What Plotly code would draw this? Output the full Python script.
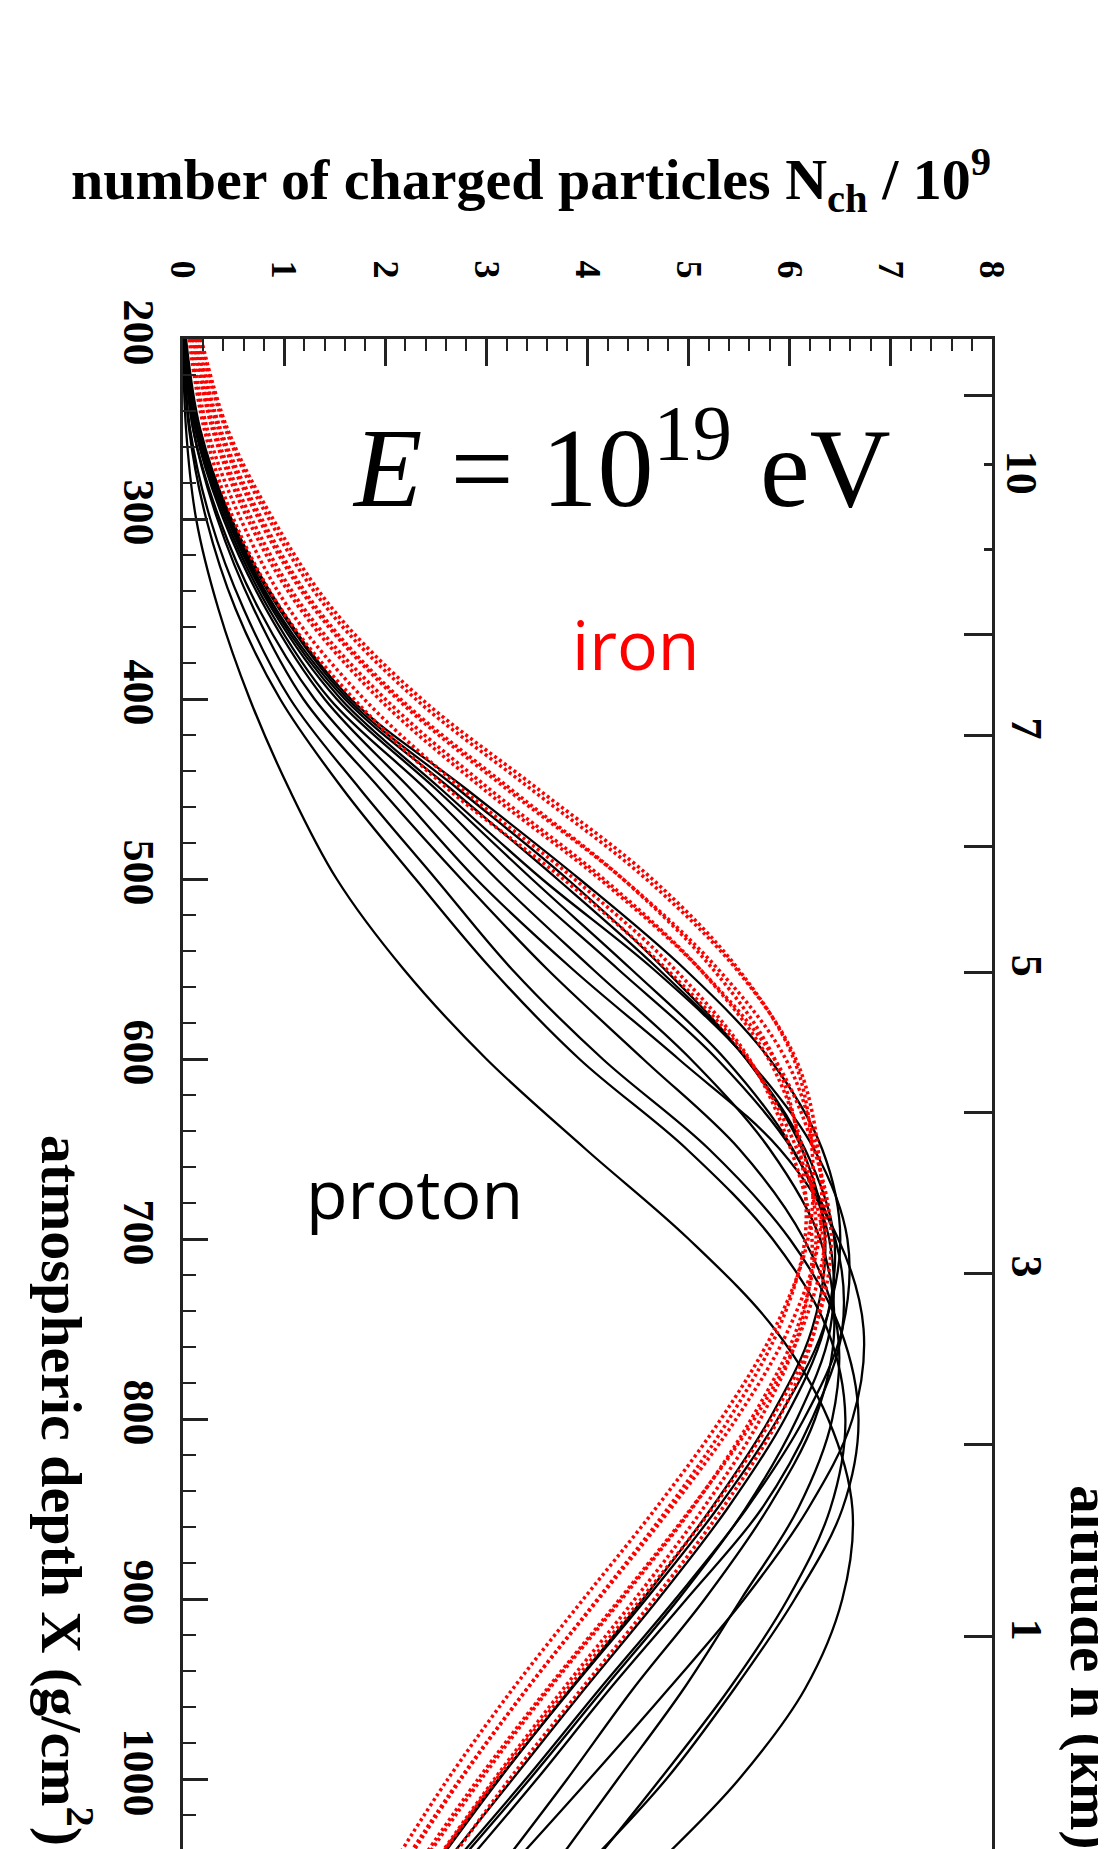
import plotly.graph_objects as go

# ---------------- data ----------------
depth = [200, 250, 300, 350, 400, 450, 500, 550, 600, 650, 700, 750, 800, 850, 900, 950, 1000, 1040]

# iron showers (red dotted), N_ch / 1e9
fe1 = [0.18, 0.44, 0.89, 1.48, 2.36, 3.51, 4.64, 5.49, 6.04, 6.22, 6.18, 5.85, 5.32, 4.67, 3.96, 3.26, 2.62, 2.16]
fe2 = [0.16, 0.42, 0.85, 1.43, 2.30, 3.44, 4.58, 5.47, 6.06, 6.28, 6.29, 5.99, 5.47, 4.82, 4.11, 3.40, 2.74, 2.26]
fe3 = [0.14, 0.37, 0.78, 1.33, 2.15, 3.24, 4.35, 5.24, 5.85, 6.10, 6.15, 5.89, 5.40, 4.79, 4.10, 3.40, 2.75, 2.28]
fe4 = [0.13, 0.35, 0.75, 1.30, 2.12, 3.20, 4.35, 5.29, 5.96, 6.26, 6.35, 6.12, 5.65, 5.02, 4.32, 3.60, 2.92, 2.42]
fe5 = [0.11, 0.31, 0.68, 1.20, 2.00, 3.03, 4.16, 5.11, 5.79, 6.13, 6.26, 6.07, 5.62, 5.03, 4.34, 3.62, 2.95, 2.45]
fe6 = [0.10, 0.29, 0.64, 1.16, 1.94, 2.97, 4.12, 5.11, 5.85, 6.24, 6.41, 6.25, 5.82, 5.23, 4.53, 3.80, 3.10, 2.58]
fe7 = [0.08, 0.24, 0.57, 1.05, 1.79, 2.76, 3.87, 4.86, 5.60, 6.01, 6.22, 6.10, 5.71, 5.14, 4.47, 3.76, 3.08, 2.57]
fe8 = [0.06, 0.21, 0.50, 0.97, 1.69, 2.62, 3.76, 4.78, 5.59, 6.07, 6.33, 6.25, 5.89, 5.33, 4.66, 3.94, 3.23, 2.71]

# proton showers (black solid), N_ch / 1e9
p1 = [0.00, 0.03, 0.13, 0.35, 0.66, 1.05, 1.52, 2.18, 3.00, 3.98, 5.00, 5.85, 6.38, 6.62, 6.52, 6.15, 5.50, 4.82]
p2 = [0.00, 0.06, 0.23, 0.52, 0.96, 1.58, 2.30, 3.05, 3.92, 4.98, 5.83, 6.37, 6.55, 6.40, 5.98, 5.40, 4.72, 4.15]
p3 = [0.00, 0.07, 0.27, 0.60, 1.06, 1.75, 2.50, 3.25, 4.15, 5.20, 6.00, 6.50, 6.68, 6.52, 6.05, 5.45, 4.78, 4.13]
p4 = [0.01, 0.10, 0.34, 0.70, 1.19, 1.95, 2.75, 3.60, 4.55, 5.50, 6.14, 6.47, 6.42, 6.08, 5.52, 4.95, 4.30, 3.78]
p5 = [0.01, 0.10, 0.36, 0.75, 1.30, 2.10, 2.90, 3.85, 4.90, 5.90, 6.48, 6.73, 6.62, 6.18, 5.55, 4.80, 4.02, 3.38]
p6 = [0.01, 0.12, 0.40, 0.82, 1.40, 2.25, 3.10, 4.05, 5.02, 5.80, 6.30, 6.44, 6.25, 5.78, 5.16, 4.45, 3.80, 3.26]
p7 = [0.02, 0.13, 0.42, 0.85, 1.45, 2.40, 3.30, 4.30, 5.28, 6.02, 6.45, 6.52, 6.22, 5.72, 4.98, 4.22, 3.50, 2.90]
p8 = [0.02, 0.14, 0.44, 0.88, 1.52, 2.50, 3.45, 4.43, 5.36, 6.03, 6.39, 6.40, 6.07, 5.56, 4.90, 4.16, 3.43, 2.82]
p9 = [0.02, 0.14, 0.45, 0.90, 1.56, 2.55, 3.55, 4.65, 5.58, 6.24, 6.57, 6.52, 6.14, 5.57, 4.87, 4.12, 3.39, 2.78]
p10 = [0.02, 0.15, 0.46, 0.92, 1.60, 2.65, 3.70, 4.70, 5.57, 6.15, 6.44, 6.34, 5.95, 5.38, 4.70, 3.97, 3.26, 2.69]
p11 = [0.02, 0.15, 0.47, 0.95, 1.63, 2.72, 3.80, 4.76, 5.57, 6.12, 6.35, 6.22, 5.80, 5.22, 4.55, 3.83, 3.13, 2.60]
p12 = [0.03, 0.17, 0.48, 0.97, 1.66, 2.80, 3.92, 4.96, 5.80, 6.32, 6.50, 6.33, 5.88, 5.28, 4.58, 3.84, 3.12, 2.58]

iron_curves = [fe1, fe2, fe3, fe4, fe5, fe6, fe7, fe8]
proton_curves = [p1, p2, p3, p4, p5, p6, p7, p8, p9, p10, p11, p12]

# top axis ticks
n_ticks = [0, 1, 2, 3, 4, 5, 6, 7, 8]
# left axis ticks
depth_ticks = [200, 300, 400, 500, 600, 700, 800, 900, 1000]
# right axis: altitude (km) and the atmospheric depth where each tick sits
alt_long_km = ["11", "8", "7", "6", "5", "4", "3", "2", "1"]
alt_long_depth = [231.6, 364.0, 420.0, 482.0, 551.8, 629.9, 719.0, 813.9, 920.8]
alt_long_text = ["", "", "7", "", "5", "", "3", "", "1"]
alt_short_km = ["10", "9"]
alt_short_depth = [269.8, 316.9]
alt_short_text = ["10", ""]

# ---------------- figure ----------------
W, H = 1106, 1849
L, R, T, B = 175, 984, 331, 1846   # plot area in pixels


def px(x):
    return (x - L) / (R - L)


def py(y):
    return (B - y) / (B - T)


SERIF = "Liberation Serif"
FRAME = "#222222"

fig = go.Figure()
for c in proton_curves:
    fig.add_trace(go.Scatter(x=c, y=depth, mode="lines",
                             line=dict(color="black", width=2.3, shape="spline"),
                             hoverinfo="skip", showlegend=False))
for c in iron_curves:
    fig.add_trace(go.Scatter(x=c, y=depth, mode="lines",
                             line=dict(color="#ff0000", width=3.5, dash="3px,3px", shape="spline"),
                             hoverinfo="skip", showlegend=False))
# carrier trace for the altitude axis
fig.add_trace(go.Scatter(x=[None], y=[None], yaxis="y2", mode="markers",
                         hoverinfo="skip", showlegend=False))

tickfont = dict(family=SERIF, size=44, color="black", weight="bold")

fig.update_layout(
    width=W, height=H,
    margin=dict(l=L, r=W - R, t=T, b=H - B),
    paper_bgcolor="white", plot_bgcolor="white",
    showlegend=False, hovermode=False,
    xaxis=dict(range=[0, 8], side="top", tickmode="array", tickvals=n_ticks,
               ticktext=[str(v) for v in n_ticks],
               ticks="inside", ticklen=27, tickwidth=2.5, tickcolor=FRAME,
               minor=dict(dtick=0.2, tick0=0, ticks="inside", ticklen=12, tickwidth=2, tickcolor=FRAME),
               showline=True, linewidth=3, linecolor=FRAME, mirror=True,
               showgrid=False, zeroline=False, tickangle=90,
               tickfont=dict(family=SERIF, size=36, color="black", weight="bold"),
               ticklabelstandoff=45),
    yaxis=dict(range=[1040, 200], tickmode="array", tickvals=depth_ticks,
               ticktext=[str(v) for v in depth_ticks],
               ticks="inside", ticklen=25, tickwidth=2.5, tickcolor=FRAME,
               minor=dict(dtick=20, tick0=0, ticks="inside", ticklen=13, tickwidth=2, tickcolor=FRAME),
               showline=True, linewidth=3, linecolor=FRAME, mirror=True,
               showgrid=False, zeroline=False, tickangle=90,
               tickfont=tickfont, ticklabelstandoff=3),
    yaxis2=dict(overlaying="y", side="right", range=[1040, 200], anchor="x",
                tickmode="array", tickvals=alt_long_depth, ticktext=alt_long_text,
                ticks="inside", ticklen=28, tickwidth=2.5, tickcolor=FRAME,
                minor=dict(tickmode="array", tickvals=alt_short_depth, ticks="inside",
                           ticklen=8, tickwidth=2.5, tickcolor=FRAME),
                showline=False, showgrid=False, zeroline=False, tickangle=90,
                tickfont=tickfont, ticklabelstandoff=10),
)

ann = []
ann.append(dict(text="<b>number of charged particles N<sub>ch</sub> / 10<sup>9</sup></b>",
                x=px(523), y=py(172), xref="paper", yref="paper", showarrow=False,
                xanchor="center", yanchor="middle",
                font=dict(family=SERIF, size=58, color="black")))
ann.append(dict(text="<i>E</i> = 10<sup>19</sup> eV",
                x=px(613), y=py(452), xref="paper", yref="paper", showarrow=False,
                xanchor="center", yanchor="middle",
                font=dict(family=SERIF, size=112, color="black")))
ann.append(dict(text="iron", x=px(628), y=py(636), xref="paper", yref="paper", showarrow=False,
                xanchor="center", yanchor="middle",
                font=dict(family="Open Sans", size=68, color="#ff0000")))
ann.append(dict(text="proton", x=px(406), y=py(1186), xref="paper", yref="paper", showarrow=False,
                xanchor="center", yanchor="middle",
                font=dict(family="Open Sans", size=68, color="black")))
ann.append(dict(text="<b>atmospheric depth X (g/cm<sup>2</sup>)</b>", textangle=90,
                x=px(58), y=py(1484), xref="paper", yref="paper", showarrow=False,
                xanchor="center", yanchor="middle",
                font=dict(family=SERIF, size=58, color="black")))
ann.append(dict(text="<b>altitude h (km)</b>", textangle=90,
                x=px(1082), y=py(1662), xref="paper", yref="paper", showarrow=False,
                xanchor="center", yanchor="middle",
                font=dict(family=SERIF, size=57, color="black")))
# label of the short altitude tick (10 km)
ann.append(dict(text="<b>" + alt_short_text[0] + "</b>", textangle=90,
                x=px(1013), y=py(465), xref="paper", yref="paper", showarrow=False,
                xanchor="center", yanchor="middle",
                font=dict(family=SERIF, size=44, color="black")))
fig.update_layout(annotations=ann)

fig.write_html("out.html")
